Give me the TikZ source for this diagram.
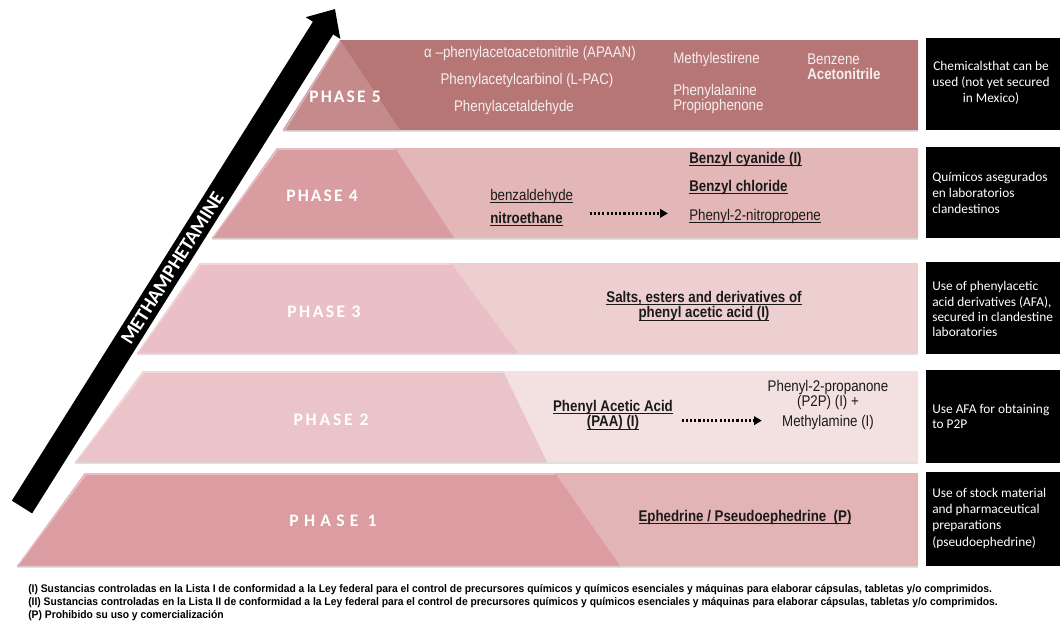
\documentclass[tikz,border=0pt]{standalone}
\usepackage{fontspec}
\setmainfont{Liberation Sans}
\newfontfamily\narrowsf[FakeStretch=0.86]{Liberation Sans}
\newfontfamily\footsf[FakeStretch=0.94]{Liberation Sans}
\newfontfamily\calib{Carlito}
\usetikzlibrary{arrows.meta}

\definecolor{bandfive}{HTML}{B67676}
\definecolor{trifive}{HTML}{C48A8C}
\definecolor{bandfour}{HTML}{E3B7B8}
\definecolor{trapfour}{HTML}{D89CA1}
\definecolor{bandthree}{HTML}{EECFD0}
\definecolor{trapthree}{HTML}{EABFC5}
\definecolor{bandtwo}{HTML}{F3E1E1}
\definecolor{traptwo}{HTML}{EBC4CA}
\definecolor{bandone}{HTML}{E2B4B5}
\definecolor{trapone}{HTML}{DB9CA2}
\definecolor{chemtext}{HTML}{1A1A1A}
\definecolor{lighttext}{HTML}{F6EEEE}

% underline sitting close to the baseline
\newcommand\chemul[1]{\underline{\smash{#1}}\vphantom{#1}}

\begin{document}
\begin{tikzpicture}[x=0.025cm,y=-0.025cm,
  phase/.style={text=white,inner sep=0pt,font=\calib\bfseries\fontsize{12.5}{14}\selectfont\addfontfeature{LetterSpace=#1}},
  chem/.style={text=chemtext,inner sep=0pt,align=center,font=\narrowsf\fontsize{11}{11.2}\selectfont},
  chemb/.style={chem,font=\narrowsf\bfseries\fontsize{11}{11.2}\selectfont},
  boxnote/.style={text=white,inner sep=0pt,align=left,anchor=west,font=\calib\fontsize{9.5}{#1}\selectfont},
  footnote/.style={anchor=west,inner sep=0pt,font=\footsf\bfseries\fontsize{7.8}{9}\selectfont},
  bevel/.style={white,opacity=0.35,line width=1.2pt},
  shade/.style={black,opacity=0.12,line width=1.2pt},
  dotarrow/.style={line width=2.2pt,dash pattern=on 1.5pt off 1.5pt,-{Triangle[length=5.5pt,width=6pt]}}]

\useasboundingbox (0,0) rectangle (1060,621);
\clip (0,0) rectangle (1060,621);

% bands
\fill[bandfive] (340,40) -- (918,40) -- (918,130) -- (283,130) -- cycle;
\fill[trifive] (340,40) -- (400,130) -- (283,130) -- cycle;
\fill[bandfour] (277,148) -- (918,148) -- (918,238) -- (212,238) -- cycle;
\fill[trapfour] (277,148) -- (395,148) -- (454,238) -- (212,238) -- cycle;
\fill[bandthree] (200,263) -- (918,263) -- (918,353) -- (137,353) -- cycle;
\fill[trapthree] (200,263) -- (451,263) -- (518,353) -- (137,353) -- cycle;
\fill[bandtwo] (143,371) -- (918,371) -- (918,462) -- (75,462) -- cycle;
\fill[traptwo] (143,371) -- (503,371) -- (547,462) -- (75,462) -- cycle;
\fill[bandone] (85,473) -- (918,473) -- (918,566) -- (17,566) -- cycle;
\fill[trapone] (85,473) -- (555,473) -- (620,566) -- (17,566) -- cycle;

% bevel edges
\draw[bevel] (284,131) -- (340,41);
\draw[bevel] (213,237) -- (278,149) -- (395,149);
\draw[bevel] (138,352) -- (201,264) -- (451,264);
\draw[bevel] (76,461) -- (144,372) -- (503,372);
\draw[bevel] (18,565) -- (86,474) -- (555,474);
\draw[shade] (283,131) -- (918,131);
\draw[shade] (212,239) -- (918,239);
\draw[shade] (137,354) -- (918,354);
\draw[shade] (75,463) -- (918,463);
\draw[shade] (17,567) -- (918,567);

\node[phase=12] (ph5) at (345,97) {PHASE 5};
\node[phase=12] (ph4) at (322,196) {PHASE 4};
\node[phase=14] (ph3) at (324,312) {PHASE 3};
\node[phase=16] (ph2) at (331,420) {PHASE 2};
\node[phase=30] (ph1) at (333,521) {PHASE 1};

% arrow
\draw[line width=17pt,-{Triangle[length=16pt,width=28pt]}] (22,507) -- (335,9)
  node[pos=0.48,sloped,text=white,font=\calib\bfseries\fontsize{14}{16}\selectfont] (meth) {METHAMPHETAMINE};

% phase 5
\node[chem,text=lighttext] (apaan) at (530,53) {α –phenylacetoacetonitrile (APAAN)};
\node[chem,text=lighttext] (lpac) at (527,80) {Phenylacetylcarbinol (L-PAC)};
\node[chem,text=lighttext] (pald) at (514,107) {Phenylacetaldehyde};
\node[chem,text=lighttext,anchor=west] (mest) at (673,59) {Methylestirene};
\node[chem,text=lighttext,anchor=west,align=left] (phala) at (673,99) {Phenylalanine\\Propiophenone};
\node[chem,text=lighttext,anchor=west] (benz) at (807,59) {Benzene};
\node[chemb,text=lighttext,anchor=west] (acet) at (807,74) {Acetonitrile};

% phase 4
\node[chemb,anchor=west] (bcyan) at (689,159) {\chemul{Benzyl cyanide (I)}};
\node[chemb,anchor=west] (bchlo) at (689,187) {\chemul{Benzyl chloride}};
\node[chem,anchor=west] (pnp) at (689,216) {\chemul{Phenyl-2-nitropropene}};
\node[chem,anchor=west] (bald) at (490,196) {\chemul{benzaldehyde}};
\node[chemb,anchor=west] (nitro) at (490,219) {\chemul{nitroethane}};
\draw[dotarrow,shorten <=19pt,shorten >=15pt] ([yshift=4pt]nitro.east) -- ([yshift=4pt]nitro.east -| pnp.west);

% phase 3
\node[chemb] (salts) at (704,306) {\chemul{Salts, esters and derivatives of}\\\chemul{phenyl acetic acid (I)}};

% phase 2
\node[chemb] (paa) at (613,415) {\chemul{Phenyl Acetic Acid}\\\chemul{(PAA) (I)}};
\node[chem] (p2p) at (828,405) {Phenyl-2-propanone\\(P2P) (I) +\\[3pt]Methylamine (I)};
\draw[dotarrow,shorten <=6pt,shorten >=4pt] ([yshift=-4pt]paa.east) -- ([yshift=-4pt]paa.east -| p2p.west);

% phase 1
\node[chemb] (ephed) at (745,517) {\chemul{Ephedrine / Pseudoephedrine~~(P)}};

% right boxes
\fill[black] (926,38) rectangle (1060,130);
\fill[black] (926,147) rectangle (1060,238);
\fill[black] (926,262) rectangle (1060,354);
\fill[black] (926,370) rectangle (1060,463);
\fill[black] (926,472) rectangle (1060,566);
\node[boxnote=11.4,align=center,anchor=center] (note5) at (991,83) {Chemicalsthat can be\\used (not yet secured\\in Mexico)};
\node[boxnote=11.4] (note4) at (932,193) {Químicos asegurados\\en laboratorios\\clandestinos};
\node[boxnote=10.8] (note3) at (932,309) {Use of phenylacetic\\acid derivatives (AFA),\\secured in clandestine\\laboratories};
\node[boxnote=10.8] (note2) at (932,416) {Use AFA for obtaining\\to P2P};
\node[boxnote=11.6] (note1) at (932,518) {Use of stock material\\and pharmaceutical\\preparations\\(pseudoephedrine)};

% footnotes
\node[footnote] (fn1) at (28,590) {(I) Sustancias controladas en la Lista I de conformidad a la Ley federal para el control de precursores químicos y químicos esenciales y máquinas para elaborar cápsulas, tabletas y/o comprimidos.};
\node[footnote] (fn2) at (28,603) {(II) Sustancias controladas en la Lista II de conformidad a la Ley federal para el control de precursores químicos y químicos esenciales y máquinas para elaborar cápsulas, tabletas y/o comprimidos.};
\node[footnote] (fn3) at (28,616) {(P) Prohibido su uso y comercialización};
\end{tikzpicture}
\end{document}
